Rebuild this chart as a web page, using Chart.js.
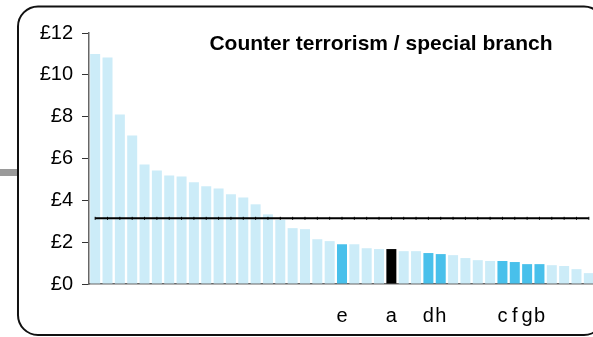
<!DOCTYPE html>
<html><head><meta charset="utf-8">
<script src="https://cdn.jsdelivr.net/npm/chart.js@4"></script>
<style>html,body{margin:0;padding:0;overflow:hidden;background:#fff;width:593px;height:337px}
#wrap{position:absolute;left:0;top:0;width:612px;height:337px}</style>
</head><body><div id="wrap"><canvas id="c" width="612" height="337"></canvas></div>
<script>
const title = 'Counter terrorism / special branch';
const categories = ['','','','','','','','','','','','','','','','','','','','','e','','','','a','','','d','h','','','','','c','f','g','b','','','',''];
const values = [11.0,10.83,8.1,7.1,5.71,5.43,5.19,5.14,4.86,4.67,4.57,4.29,4.14,3.81,3.33,3.07,2.67,2.62,2.14,2.05,1.9,1.9,1.71,1.67,1.67,1.57,1.57,1.48,1.43,1.38,1.24,1.14,1.1,1.1,1.05,0.95,0.95,0.9,0.86,0.71,0.52];
const highlighted = ['e','d','h','c','f','g','b'];
const selected = ['a'];
const average = 3.14;
const yTicks = [0,2,4,6,8,10,12];

const barColors = categories.map(c => selected.includes(c) ? '#000000' : (highlighted.includes(c) ? '#48C0EB' : '#CCECF8'));
const avgLine = categories.map(() => average);

const framePlugin = {
  id: 'frame',
  beforeDraw(chart) {
    const ctx = chart.ctx;
    ctx.save();
    ctx.fillStyle = '#9a9a9a';
    ctx.fillRect(0, 169, 18, 7);
    ctx.strokeStyle = '#111';
    ctx.lineWidth = 2;
    ctx.beginPath();
    ctx.roundRect(18, 6.5, 586, 328.5, 20);
    ctx.stroke();
    ctx.restore();
  },
  afterDraw(chart) {
    const ctx = chart.ctx;
    ctx.save();
    ctx.fillStyle = '#000';
    ctx.font = 'bold 21px "Liberation Sans", Arial, sans-serif';
    ctx.textAlign = 'center';
    ctx.textBaseline = 'alphabetic';
    ctx.fillText(title, 381, 50);
    ctx.restore();
  }
};

new Chart(document.getElementById('c'), {
  data: {
    labels: categories,
    datasets: [
      { type: 'line', data: avgLine, borderColor: '#000', borderWidth: 2, pointStyle: 'line', rotation: 90, pointRadius: 1.5, pointBorderWidth: 1, pointBorderColor: '#000', order: 1, tension: 0 },
      { type: 'bar', data: values, backgroundColor: barColors, barPercentage: 0.81, categoryPercentage: 1.0, order: 2 }
    ]
  },
  options: {
    responsive: false,
    animation: false,
    devicePixelRatio: 1,
    layout: { padding: { left: 0, right: 17, top: 33, bottom: 0 } },
    plugins: { legend: { display: false }, tooltip: { enabled: false } },
    scales: {
      x: {
        grid: { display: false },
        border: { display: true, color: '#666', width: 1.5 },
        ticks: { color: '#000', font: { size: 20, family: '"Liberation Sans", Arial, sans-serif' }, padding: 12, autoSkip: false, maxRotation: 0 },
        afterFit(s) { s.height = 53; }
      },
      y: {
        min: 0, max: 12,
        afterBuildTicks(s) { s.ticks = yTicks.map(v => ({ value: v })); },
        grid: { drawOnChartArea: false, drawTicks: true, tickLength: 7, color: '#333' },
        border: { display: true, color: '#666', width: 1.5 },
        ticks: { color: '#000', font: { size: 20, family: '"Liberation Sans", Arial, sans-serif' }, padding: 9, callback: v => '£' + v },
        afterFit(s) { s.width = 89; }
      }
    }
  },
  plugins: [framePlugin]
});
</script></body></html>
